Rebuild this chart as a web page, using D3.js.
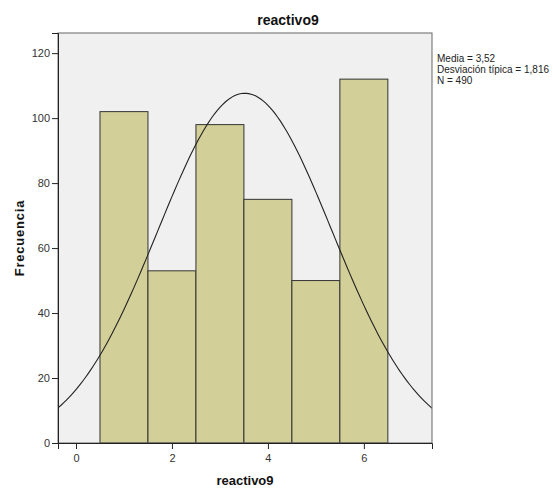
<!DOCTYPE html>
<html>
<head>
<meta charset="utf-8">
<script src="https://cdn.jsdelivr.net/npm/d3@7"></script>
<style>
  body { margin: 0; background: #fff; }
  svg text { font-family: Arial, "Liberation Sans", sans-serif; }
</style>
</head>
<body>
<div id="chart"></div>
<script>
// histogram bins (value centres) and counts
var binCenters = [1, 2, 3, 4, 5, 6];
var counts = [102, 53, 98, 75, 50, 112];
var yTicks = [0, 20, 40, 60, 80, 100, 120];
var xTicks = [0, 2, 4, 6];
// summary stats shown in the legend
var statLabels = ["Media = 3,52", "Desviación típica = 1,816", "N = 490"];
var statMean = [3.52];
var statSd = [1.816];
var statN = [490];

var W = 553, H = 490;
var margin = {left: 58, top: 33, right: 121, bottom: 47};
var pw = W - margin.left - margin.right;
var ph = H - margin.top - margin.bottom;

var svg = d3.select("#chart").append("svg")
    .attr("width", W)
    .attr("height", H);

var x = d3.scaleLinear().domain([-0.375, 7.42]).range([0, pw]);
var y = d3.scaleLinear().domain([0, 126.2]).range([ph, 0]);

var g = svg.append("g")
    .attr("transform", "translate(" + margin.left + "," + margin.top + ")");

// plot background
g.append("rect")
    .attr("width", pw)
    .attr("height", ph)
    .style("fill", "#f0f0f0");

g.append("clipPath").attr("id", "clip")
  .append("rect").attr("width", pw).attr("height", ph);

// bars
g.append("g").selectAll("rect")
    .data(binCenters)
  .enter().append("rect")
    .attr("x", function(d) { return x(d - 0.5); })
    .attr("width", function(d) { return x(d + 0.5) - x(d - 0.5); })
    .attr("y", function(d, i) { return y(counts[i]); })
    .attr("height", function(d, i) { return ph - y(counts[i]); })
    .style("fill", "#d3cf98")
    .style("stroke", "#333")
    .style("stroke-width", 1);

// normal curve from mean / sd / N (bin width 1)
var mu = statMean[0], sd = statSd[0], n = statN[0];
var curve = d3.range(-0.5, 7.55, 0.05).map(function(v) {
  return [v, n / (sd * Math.sqrt(2 * Math.PI)) * Math.exp(-0.5 * Math.pow((v - mu) / sd, 2))];
});
g.append("path")
    .datum(curve)
    .attr("clip-path", "url(#clip)")
    .attr("d", d3.line().x(function(d) { return x(d[0]); }).y(function(d) { return y(d[1]); }))
    .style("fill", "none")
    .style("stroke", "#222")
    .style("stroke-width", 1.1);

// frame
g.append("rect")
    .attr("width", pw)
    .attr("height", ph)
    .style("fill", "none")
    .style("stroke", "#666")
    .style("stroke-width", 1);

// axes
var yAxis = g.append("g")
    .call(d3.axisLeft(y).tickValues(yTicks).tickSize(6).tickPadding(2));
var xAxis = g.append("g")
    .attr("transform", "translate(0," + ph + ")")
    .call(d3.axisBottom(x).tickValues(xTicks).tickSize(6).tickPadding(5));

[yAxis, xAxis].forEach(function(a) {
  a.select(".domain").style("stroke", "#222");
  a.selectAll(".tick line").style("stroke", "#222");
  a.selectAll("text")
    .style("font-size", "11px")
    .style("fill", "#333")
    .style("font-family", "Arial, 'Liberation Sans', sans-serif");
});

// title
svg.append("text")
    .attr("x", 288)
    .attr("y", 25)
    .attr("text-anchor", "middle")
    .style("font-size", "14px")
    .style("font-weight", "bold")
    .style("fill", "#111")
    .text("reactivo9");

// axis titles
svg.append("text")
    .attr("x", margin.left + pw / 2)
    .attr("y", 485)
    .attr("text-anchor", "middle")
    .style("font-size", "13px")
    .style("font-weight", "bold")
    .style("fill", "#111")
    .text("reactivo9");

svg.append("text")
    .attr("transform", "translate(24," + (margin.top + ph / 2) + ") rotate(-90)")
    .attr("text-anchor", "middle")
    .style("font-size", "13px")
    .style("font-weight", "bold")
    .style("letter-spacing", "0.8px")
    .style("fill", "#111")
    .text("Frecuencia");

// stats legend
svg.append("g").selectAll("text")
    .data(statLabels)
  .enter().append("text")
    .attr("x", 437)
    .attr("y", function(d, i) { return 62 + i * 11; })
    .style("font-size", "10px")
    .style("fill", "#222")
    .text(function(d) { return d; });
</script>
</body>
</html>
